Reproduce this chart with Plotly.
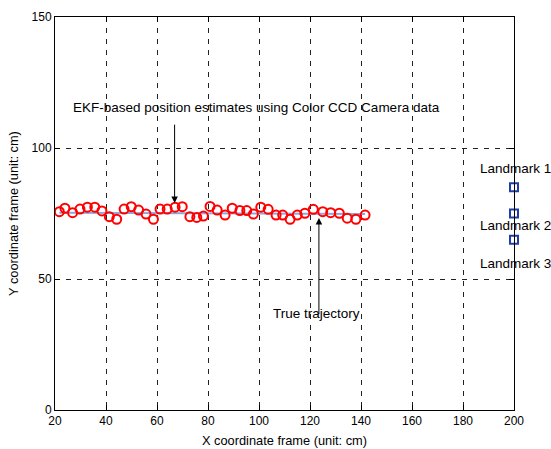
import plotly.graph_objects as go

est_x = [21.7, 23.9, 26.9, 29.8, 32.7, 35.6, 38.4, 41.3, 44.2, 47.1, 49.9, 52.8,
         55.7, 58.6, 61.2, 64.0, 67.1, 69.9, 72.9, 75.6, 78.2, 80.8, 83.6, 86.7,
         89.5, 92.5, 95.2, 97.8, 100.7, 103.6, 106.7, 109.3, 112.2, 115.0, 118.0,
         121.3, 125.0, 128.1, 131.5, 134.6, 138.0, 141.6]
est_y = [75.7, 77.0, 75.3, 76.7, 77.4, 77.4, 76.0, 73.8, 72.8, 76.7, 77.6, 76.3,
         74.8, 72.8, 76.7, 76.7, 77.4, 77.6, 73.8, 73.5, 74.0, 77.7, 76.3, 74.4,
         77.0, 76.1, 76.1, 74.8, 77.4, 76.6, 74.4, 74.4, 72.8, 74.4, 75.1, 76.6,
         75.7, 75.3, 75.1, 73.2, 72.8, 74.4]
true_x = [21.7, 60.0, 100.0, 141.6]
true_y = [75.3, 75.2, 75.0, 74.8]
landmark_x = [200, 200, 200]
landmark_y = [85, 75, 65]
landmark_labels = ["Landmark 1", "Landmark 2", "Landmark 3"]
x_ticks = [20, 40, 60, 80, 100, 120, 140, 160, 180, 200]
y_ticks = [0, 50, 100, 150]

FONT = "Arial, Liberation Sans, sans-serif"
ANN = 13.5

fig = go.Figure()
fig.add_trace(go.Scatter(x=true_x, y=true_y, mode="lines",
                         line=dict(color="#8ea6dc", width=2), showlegend=False))
fig.add_trace(go.Scatter(x=est_x, y=est_y, mode="markers",
                         marker=dict(symbol="circle-open", size=9, color="#ff0000",
                                     line=dict(width=2, color="#ff0000")),
                         showlegend=False))
fig.add_trace(go.Scatter(x=landmark_x, y=landmark_y, mode="markers",
                         marker=dict(symbol="square-open", size=8, color="#1f3fa8",
                                     line=dict(width=2, color="#1f3fa8")),
                         cliponaxis=False, showlegend=False))

label_y = [92.3, 70.3, 56.0]
for lab, ly in zip(landmark_labels, label_y):
    fig.add_annotation(x=200, y=ly, text=lab, showarrow=False,
                       xanchor="center", yanchor="middle", xshift=1,
                       font=dict(size=ANN, color="black", family=FONT))

fig.add_annotation(x=99.2, y=115.6, text="EKF-based position estimates using Color CCD Camera data",
                   showarrow=False, font=dict(size=ANN, color="black", family=FONT))
fig.add_annotation(x=66.9, y=79, ax=66.9, ay=109.5, xref="x", yref="y", axref="x", ayref="y",
                   text="", showarrow=True, arrowhead=2, arrowsize=1.3, arrowwidth=1,
                   arrowcolor="black")
fig.add_annotation(x=122.5, y=37.0, text="True trajectory", showarrow=False,
                   font=dict(size=ANN, color="black", family=FONT))
fig.add_annotation(x=123.5, y=73.3, ax=123.5, ay=36.0, xref="x", yref="y", axref="x", ayref="y",
                   text="", showarrow=True, arrowhead=2, arrowsize=1.3, arrowwidth=1,
                   arrowcolor="black")

axis_common = dict(showline=True, linecolor="black", linewidth=1, mirror="ticks",
                   ticks="inside", ticklen=5, tickcolor="black", automargin=False,
                   showgrid=True, gridcolor="#222222", gridwidth=1, griddash="5px,6px",
                   zeroline=False, tickfont=dict(size=12, color="black", family=FONT))

fig.update_xaxes(range=[20, 200], tickvals=x_ticks,
                 title=dict(text="X coordinate frame (unit: cm)", standoff=8,
                            font=dict(size=12.8, color="black", family=FONT)),
                 **axis_common)
fig.update_yaxes(range=[0, 150], tickvals=y_ticks,
                 title=dict(text="Y coordinate frame (unit: cm)", standoff=10,
                            font=dict(size=12.8, color="black", family=FONT)),
                 **axis_common)

fig.update_layout(width=551, height=449, margin=dict(l=55, r=37, t=17, b=39),
                  plot_bgcolor="white", paper_bgcolor="white",
                  font=dict(family=FONT, size=12, color="black"))

fig.write_html("out.html", config={"displayModeBar": False},
               post_script="document.body.style.margin='0';")
